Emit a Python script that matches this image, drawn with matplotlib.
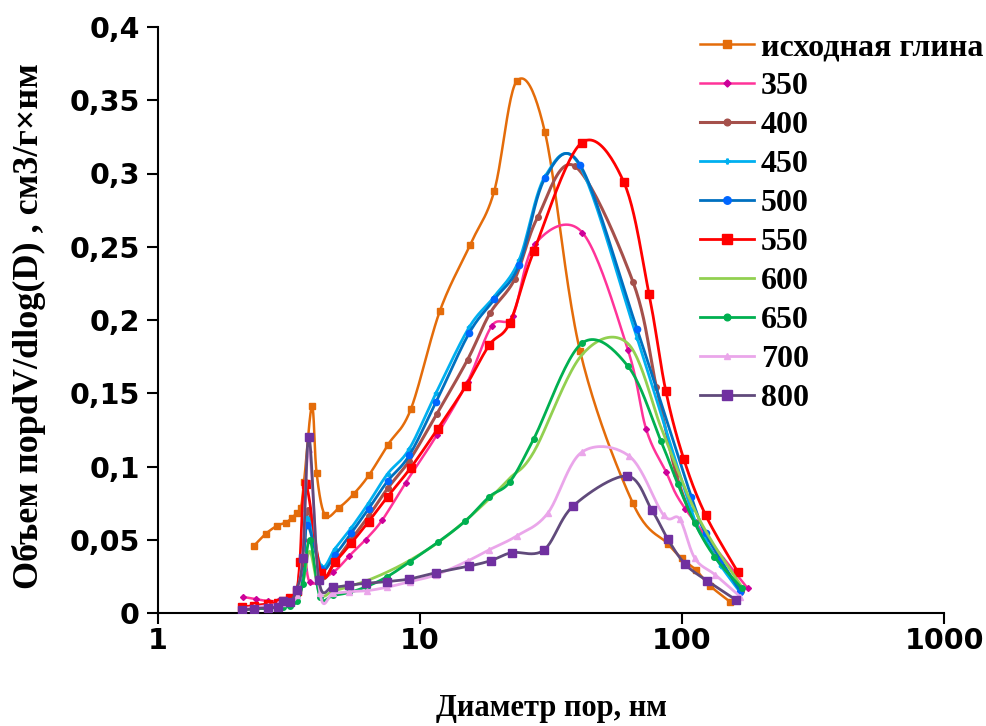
import numpy as np
import matplotlib
matplotlib.use("Agg")
import matplotlib.pyplot as plt
from matplotlib.lines import Line2D

# ---------------- data ----------------
labels = ["исходная глина", "350", "400", "450", "500", "550", "600", "650", "700", "800"]

x_clay = [2.32, 2.58, 2.85, 3.07, 3.24, 3.39, 3.51, 3.61, 3.87, 4.03, 4.34, 4.91, 5.58, 6.39,
          7.55, 9.22, 11.9, 15.5, 19.2, 23.4, 30.0, 40.8, 64.9, 88.2, 99.7, 112.8, 127.9, 152.5]
y_clay = [0.0457, 0.0541, 0.0596, 0.0617, 0.0647, 0.0685, 0.0719, 0.0896, 0.141, 0.0957, 0.0667,
          0.0719, 0.0812, 0.0942, 0.115, 0.139, 0.206, 0.251, 0.288, 0.363, 0.328, 0.179, 0.075,
          0.0473, 0.0373, 0.0295, 0.0186, 0.0077]

x_350 = [2.11, 2.37, 2.63, 2.88, 3.0, 3.19, 3.38, 3.6, 3.8, 4.67, 5.37, 6.2, 7.18, 8.82, 11.6,
         15.2, 18.8, 22.6, 27.5, 41.7, 62.2, 73.0, 86.8, 103, 178]
y_350 = [0.011, 0.0094, 0.0082, 0.008, 0.009, 0.010, 0.013, 0.05, 0.021, 0.028, 0.039, 0.050,
         0.0635, 0.089, 0.1215, 0.158, 0.196, 0.203, 0.252, 0.2596, 0.1795, 0.1254, 0.0965,
         0.071, 0.0169]

x_400 = [2.09, 2.33, 2.62, 2.88, 3.0, 3.19, 3.38, 3.57, 3.75, 4.2, 4.74, 5.46, 6.36, 7.52, 9.1,
         11.6, 15.2, 18.5, 23.0, 28.1, 39.0, 65.0, 79.8, 95, 112, 135, 168]
y_400 = [0.004, 0.005, 0.006, 0.007, 0.008, 0.010, 0.015, 0.03, 0.07, 0.025, 0.035, 0.050, 0.066,
         0.085, 0.104, 0.136, 0.173, 0.2046, 0.228, 0.270, 0.305, 0.226, 0.1545, 0.095, 0.062,
         0.038, 0.015]

x_450 = [2.09, 2.33, 2.62, 2.88, 3.0, 3.19, 3.38, 3.57, 3.72, 4.2, 4.74, 5.46, 6.36, 7.52, 9.1,
         11.5, 15.4, 19.2, 23.9, 30.0, 40.8, 67.3, 108.7, 123, 141, 167]
y_450 = [0.003, 0.004, 0.005, 0.006, 0.007, 0.009, 0.014, 0.03, 0.065, 0.032, 0.044, 0.058, 0.075,
         0.095, 0.112, 0.150, 0.195, 0.216, 0.241, 0.298, 0.305, 0.188, 0.070, 0.050, 0.032, 0.014]

x_500 = [2.09, 2.33, 2.62, 2.88, 3.0, 3.19, 3.38, 3.57, 3.72, 4.2, 4.74, 5.46, 6.36, 7.52, 9.1,
         11.5, 15.4, 19.2, 23.9, 30.0, 40.8, 67.3, 108.7, 123, 141, 167]
y_500 = [0.003, 0.004, 0.005, 0.006, 0.007, 0.009, 0.013, 0.03, 0.06, 0.03, 0.0396, 0.0544, 0.071,
         0.090, 0.1076, 0.1438, 0.191, 0.214, 0.2375, 0.2967, 0.306, 0.194, 0.079, 0.0544,
         0.036, 0.0145]

x_550 = [2.09, 2.33, 2.62, 2.88, 3.0, 3.19, 3.38, 3.48, 3.66, 4.2, 4.74, 5.46, 6.36, 7.52, 9.22,
         11.67, 14.97, 18.4, 22.0, 27.2, 41.4, 60.0, 74.8, 86.7, 101.6, 123, 163]
y_550 = [0.004, 0.005, 0.006, 0.007, 0.008, 0.010, 0.015, 0.035, 0.088, 0.0271, 0.035, 0.0476,
         0.0623, 0.0794, 0.0992, 0.1256, 0.155, 0.183, 0.198, 0.247, 0.321, 0.294, 0.218,
         0.1517, 0.105, 0.0669, 0.0282]

x_600 = [2.09, 2.33, 2.62, 2.88, 3.0, 3.19, 3.38, 3.57, 3.8, 4.15, 4.65, 5.36, 6.25, 7.5, 9.15,
         11.7, 14.9, 18.4, 22.0, 27.2, 41.4, 62.1, 83, 96.5, 112, 133, 169]
y_600 = [0.003, 0.003, 0.004, 0.005, 0.005, 0.006, 0.009, 0.02, 0.042, 0.013, 0.015, 0.018, 0.022,
         0.028, 0.036, 0.048, 0.063, 0.078, 0.092, 0.110, 0.176, 0.184, 0.127, 0.097, 0.070,
         0.046, 0.018]

x_650 = [2.09, 2.33, 2.62, 2.88, 3.0, 3.19, 3.38, 3.57, 3.8, 4.15, 4.65, 5.36, 6.25, 7.5, 9.15,
         11.7, 14.9, 18.4, 22.0, 27.2, 41.4, 62.1, 83, 96.5, 112, 133, 169]
y_650 = [0.002, 0.003, 0.003, 0.004, 0.004, 0.005, 0.008, 0.02, 0.0498, 0.011, 0.012, 0.014,
         0.018, 0.0248, 0.035, 0.0483, 0.0628, 0.0794, 0.0894, 0.119, 0.184, 0.1686, 0.1176,
         0.0878, 0.0612, 0.0385, 0.0169]

x_700 = [2.09, 2.33, 2.62, 2.88, 3.0, 3.19, 3.38, 3.57, 3.77, 4.15, 4.65, 5.36, 6.25, 7.45, 9.15,
         11.5, 15.2, 18.3, 23.4, 30.7, 41.4, 63.0, 85, 97.9, 112, 134, 167]
y_700 = [0.003, 0.004, 0.005, 0.006, 0.007, 0.008, 0.012, 0.04, 0.112, 0.0137, 0.0135, 0.0146,
         0.0152, 0.0175, 0.0214, 0.026, 0.0355, 0.043, 0.0526, 0.068, 0.1097, 0.107, 0.0669,
         0.0642, 0.0373, 0.026, 0.0111]

x_800 = [2.09, 2.33, 2.62, 2.88, 2.99, 3.19, 3.38, 3.57, 3.77, 4.11, 4.65, 5.36, 6.2, 7.45, 9.1,
         11.5, 15.4, 18.6, 22.4, 29.7, 38.5, 61.5, 76.7, 88.2, 103, 125, 161]
y_800 = [0.002, 0.003, 0.0036, 0.0043, 0.0084, 0.0077, 0.016, 0.0378, 0.120, 0.0225, 0.018, 0.019,
         0.0203, 0.0214, 0.0232, 0.0275, 0.032, 0.0357, 0.0412, 0.043, 0.0732, 0.0935, 0.0703,
         0.0505, 0.0332, 0.0218, 0.0089]

xs = [x_clay, x_350, x_400, x_450, x_500, x_550, x_600, x_650, x_700, x_800]
ys = [y_clay, y_350, y_400, y_450, y_500, y_550, y_600, y_650, y_700, y_800]

line_colors = ["#E46C0A", "#FF3399", "#A5504B", "#00B0F0", "#0070C0", "#FF0000",
               "#92D050", "#00B050", "#EAA6EA", "#604A7B"]
marker_colors = ["#E46C0A", "#CC0099", "#A5504B", "#00B0F0", "#0066FF", "#FF0000",
                 "#92D050", "#00B050", "#EAA6EA", "#7030A0"]
markers = ["s", "D", "o", "P", "o", "s", None, "o", "^", "s"]
msizes = [5, 3, 4, 3, 4.5, 5.5, 0, 4, 4, 5.5]
lwidths = [1.8, 1.8, 2.2, 2.0, 2.0, 2.0, 2.0, 2.0, 2.0, 2.0]


def smooth(x, y, n=24):
    """Excel-like smoothed line (uniform Catmull-Rom) in log-x / y display space."""
    u = np.log10(np.asarray(x, float)) * 262.0
    v = np.asarray(y, float) * 1465.0
    P = np.column_stack([u, v])
    P = np.vstack([P[0], P, P[-1]])
    out = []
    t = np.linspace(0, 1, n, endpoint=False)[:, None]
    for i in range(1, len(P) - 2):
        p0, p1, p2, p3 = P[i - 1], P[i], P[i + 1], P[i + 2]
        c1 = p1 + (p2 - p0) / 6.0
        c2 = p2 - (p3 - p1) / 6.0
        b = ((1 - t) ** 3) * p1 + 3 * ((1 - t) ** 2) * t * c1 + 3 * (1 - t) * t ** 2 * c2 + t ** 3 * p2
        out.append(b)
    out.append(P[-2][None, :])
    B = np.vstack(out)
    return 10 ** (B[:, 0] / 262.0), B[:, 1] / 1465.0


fig = plt.figure(figsize=(9.87, 7.26), dpi=100)
ax = fig.add_axes([158 / 987, 1 - 613 / 726, (944 - 158) / 987, (613 - 27) / 726])

handles = []
for i in range(len(labels)):
    sx, sy = smooth(xs[i], ys[i])
    ax.plot(sx, sy, color=line_colors[i], lw=lwidths[i], solid_capstyle="round", zorder=2 + i)
    if markers[i] is not None:
        ax.plot(xs[i], ys[i], linestyle="none", marker=markers[i], ms=msizes[i],
                color=marker_colors[i], mec=marker_colors[i], zorder=2 + i)
    handles.append(Line2D([], [], color=line_colors[i], lw=lwidths[i],
                          marker=markers[i] if markers[i] else None, ms=msizes[i] * 1.2,
                          mfc=marker_colors[i], mec=marker_colors[i]))

ax.set_xscale("log")
ax.set_xlim(1, 1000)
ax.set_ylim(0, 0.4)
ax.set_xticks([1, 10, 100, 1000])
ax.set_xticklabels(["1", "10", "100", "1000"])
yt = [0, 0.05, 0.1, 0.15, 0.2, 0.25, 0.3, 0.35, 0.4]
ax.set_yticks(yt)
ax.set_yticklabels(["0", "0,05", "0,1", "0,15", "0,2", "0,25", "0,3", "0,35", "0,4"])
ax.xaxis.set_minor_locator(matplotlib.ticker.NullLocator())
for s in ["top", "right"]:
    ax.spines[s].set_visible(False)
for s in ["left", "bottom"]:
    ax.spines[s].set_linewidth(1.5)
ax.tick_params(axis="both", direction="out", length=8, width=1.5, labelsize=20.5, pad=5)
ax.tick_params(axis="x", pad=2)
for lab in ax.get_xticklabels() + ax.get_yticklabels():
    lab.set_fontweight("bold")
    lab.set_fontfamily("DejaVu Sans")

ax.set_xlabel("Диаметр пор, нм", fontfamily="Liberation Serif", fontweight="bold",
              fontsize=22, labelpad=28)
ax.set_ylabel("Объем порdV/dlog(D) , см3/г×нм", fontfamily="Liberation Serif",
              fontweight="bold", fontsize=26, labelpad=15)
ax.yaxis.set_label_coords(-0.142, 0.49)

leg = fig.legend(handles, labels, loc="upper left", bbox_to_anchor=(700 / 987, 1 - 33 / 726),
                 frameon=False, borderpad=0, borderaxespad=0, handlelength=1.7,
                 handletextpad=0.2, labelspacing=0.3,
                 prop={"family": "Liberation Serif", "weight": "bold", "size": 23})

fig.savefig("out.png", dpi=100)
